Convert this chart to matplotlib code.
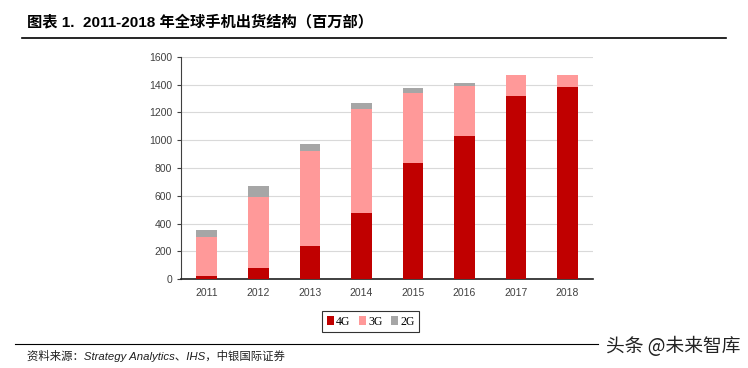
import numpy as np
from matplotlib import pyplot as plt

years = ['2011', '2012', '2013', '2014', '2015', '2016', '2017', '2018']
g4 = [24, 81, 242, 479, 836, 1033, 1318, 1385]
g3 = [282, 513, 680, 743, 506, 357, 151, 84]
g2 = [48, 79, 53, 43, 36, 19, 0, 0]
yticks = [0, 200, 400, 600, 800, 1000, 1200, 1400, 1600]

plt.rcParams['font.family'] = ['Liberation Sans', 'Noto Sans CJK SC']

fig = plt.figure(figsize=(7.48, 3.68), dpi=100)
ax = fig.add_axes([0.242, 0.241, 0.551, 0.605])

x = np.arange(len(years))
w = 0.4
ax.bar(x, g4, w, color='#C00000', label='4G', zorder=3)
ax.bar(x, g3, w, bottom=g4, color='#FF9999', label='3G', zorder=3)
bottom2 = [a + b for a, b in zip(g4, g3)]
ax.bar(x, g2, w, bottom=bottom2, color='#A6A6A6', label='2G', zorder=3)

ax.set_xlim(-0.5, 7.5)
ax.set_ylim(0, 1600)
ax.set_yticks(yticks)
ax.set_xticks(x)
ax.set_xticklabels(years)
ax.tick_params(axis='both', labelsize=7.5, colors='#404040', length=3)
ax.tick_params(axis='x', length=0, pad=6)
ax.grid(axis='y', color='#D9D9D9', lw=0.8, zorder=0)
for s in ['top', 'right']:
    ax.spines[s].set_visible(False)
ax.spines['left'].set_color('#404040')
ax.spines['bottom'].set_color('#202020')
ax.spines['bottom'].set_linewidth(1.2)

leg = ax.legend(loc='upper center', bbox_to_anchor=(0.46, -0.115), ncol=3,
                frameon=True, fancybox=False, handlelength=0.6, handleheight=0.8,
                handletextpad=0.2, columnspacing=0.7, borderpad=0.4,
                prop={'family': 'Liberation Serif', 'size': 8.5})
leg.get_frame().set_edgecolor('#000000')
leg.get_frame().set_linewidth(0.8)

fig.text(0.036, 0.94, '图表 1.  2011-2018 年全球手机出货结构（百万部）',
         fontsize=11, fontweight='bold', va='center',
         family=['Liberation Sans', 'Noto Sans CJK SC'])
fig.add_artist(plt.Line2D([0.03, 0.97], [0.896, 0.896], color='black', lw=1.2))
fig.add_artist(plt.Line2D([0.02, 0.80], [0.065, 0.065], color='black', lw=0.8))
fig.text(0.036, 0.033, '资料来源：Strategy Analytics、IHS，中银国际证券',
         fontsize=8.2, style='italic', va='center', color='#202020',
         family=['Liberation Sans', 'Noto Sans CJK SC'])
fig.text(0.99, 0.058, '头条 @未来智库', fontsize=13.5, ha='right', va='center',
         color='#222222', family=['Noto Sans CJK SC', 'DejaVu Sans'])

fig.savefig('out.png', dpi=100)
